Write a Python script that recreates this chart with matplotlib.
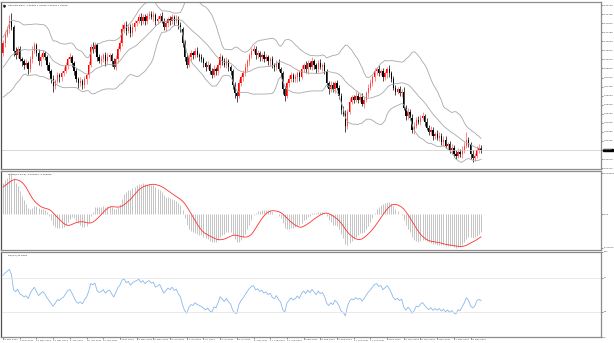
import numpy as np
import pandas as pd
import matplotlib
matplotlib.use("Agg")
import matplotlib.pyplot as plt
import matplotlib.transforms as mtransforms

# ---------------- data (prices in pips, 1 pip = 0.0001) ----------------
warmup_close = [13620, 13660, 13590, 13650, 13700, 13680, 13640, 13610, 13690, 13720,
                13680, 13700, 13650, 13670, 13720, 13740, 13700, 13690, 13720, 13760,
                13800, 13770, 13830, 13820, 13780, 13810, 13880, 13920, 13900, 13950,
                13990, 13960, 14010, 14000, 13970]

close_pips = [
    14039, 14097, 14141, 14199, 14155, 13981, 13952, 13996, 13923, 13908,
    13879, 13894, 13850, 13923, 13981, 14025, 13967, 13908, 13937, 13967,
    13937, 13879, 13836, 13777, 13727, 13763, 13807, 13792, 13821, 13836,
    13879, 13923, 13937, 13894, 13836, 13777, 13748, 13763, 13734, 13777,
    13807, 13879, 14010, 13996, 14025, 13937, 13908, 13923, 13952, 13908,
    13937, 13952, 13908, 13865, 13923, 13996, 14039, 14141, 14170, 14126,
    14155, 14112, 14155, 14185, 14199, 14228, 14199, 14228, 14199, 14235,
    14250, 14228, 14243, 14199, 14214, 14235, 14199, 14155, 14185, 14214,
    14199, 14228, 14199, 14214, 14170, 14141, 14039, 13937, 13879, 13937,
    13967, 13952, 13981, 13952, 13937, 13923, 13894, 13865, 13879, 13836,
    13807, 13850, 13836, 13879, 13937, 13908, 13879, 13908, 13865, 13836,
    13734, 13676, 13661, 13748, 13792, 13821, 13865, 13908, 13952, 13981,
    13996, 13952, 13967, 13937, 13952, 13923, 13937, 13908, 13923, 13879,
    13865, 13894, 13850, 13821, 13705, 13661, 13748, 13777, 13807, 13777,
    13792, 13821, 13792, 13850, 13879, 13850, 13894, 13865, 13908, 13879,
    13850, 13894, 13865, 13879, 13836, 13748, 13705, 13734, 13705, 13748,
    13719, 13661, 13559, 13530, 13443, 13545, 13617, 13647, 13632, 13661,
    13632, 13647, 13603, 13632, 13676, 13719, 13748, 13792, 13836, 13850,
    13821, 13836, 13792, 13821, 13850, 13821, 13777, 13719, 13690, 13705,
    13676, 13690, 13574, 13516, 13545, 13501, 13414, 13443, 13487, 13472,
    13501, 13516, 13472, 13428, 13399, 13414, 13370, 13385, 13356, 13370,
    13327, 13341, 13298, 13312, 13269, 13283, 13240, 13225, 13254, 13240,
    13269, 13298, 13341, 13312, 13240, 13210, 13225, 13269, 13283, 13269]

upper_wick = [
    25, 30, 20, 45, 60, 15, 30, 20, 25, 15,
    20, 30, 15, 25, 35, 20, 15, 30, 25, 20,
    15, 20, 25, 15, 30, 20, 25, 15, 20, 30,
    25, 20, 35, 15, 20, 25, 15, 30, 20, 25,
    20, 30, 25, 40, 20, 15, 25, 30, 20, 25,
    30, 20, 15, 25, 30, 20, 25, 35, 20, 30,
    20, 25, 30, 20, 15, 25, 30, 20, 25, 20,
    25, 20, 30, 15, 25, 20, 30, 25, 20, 15,
    20, 25, 15, 30, 20, 25, 15, 20, 30, 25,
    20, 15, 25, 30, 20, 25, 20, 15, 30, 20,
    25, 30, 20, 15, 35, 20, 25, 30, 20, 15,
    20, 25, 15, 30, 20, 25, 30, 20, 15, 25,
    30, 20, 25, 15, 20, 30, 25, 20, 15, 25,
    20, 25, 30, 20, 15, 25, 20, 30, 25, 20,
    25, 20, 15, 30, 20, 35, 25, 20, 30, 15,
    20, 25, 30, 20, 25, 15, 20, 30, 25, 20,
    25, 20, 15, 25, 30, 20, 25, 15, 20, 30,
    20, 25, 30, 15, 20, 25, 30, 20, 25, 20,
    30, 20, 25, 20, 15, 30, 20, 25, 20, 15,
    25, 20, 30, 15, 25, 20, 30, 25, 20, 25,
    20, 25, 15, 30, 20, 25, 20, 15, 25, 30,
    20, 25, 30, 15, 20, 25, 20, 30, 25, 20,
    25, 30, 60, 20, 15, 25, 20, 30, 25, 20]

lower_wick = [
    20, 25, 15, 30, 20, 35, 25, 20, 15, 30,
    25, 15, 30, 20, 25, 15, 20, 25, 30, 15,
    20, 30, 15, 25, 40, 20, 15, 30, 25, 20,
    15, 25, 20, 30, 25, 15, 35, 20, 25, 15,
    30, 20, 15, 25, 20, 30, 15, 25, 20, 30,
    20, 25, 30, 15, 20, 25, 15, 20, 30, 25,
    15, 30, 20, 25, 20, 15, 25, 20, 30, 20,
    20, 15, 25, 30, 20, 25, 15, 20, 25, 30,
    25, 20, 30, 15, 25, 20, 25, 30, 20, 15,
    30, 25, 20, 15, 25, 20, 30, 25, 15, 20,
    20, 15, 25, 30, 20, 25, 15, 20, 25, 30,
    25, 30, 45, 20, 15, 25, 20, 30, 25, 20,
    15, 25, 20, 30, 25, 20, 15, 25, 30, 20,
    25, 20, 15, 25, 30, 40, 20, 25, 20, 15,
    20, 30, 25, 15, 20, 25, 30, 15, 20, 25,
    25, 20, 15, 30, 20, 25, 30, 20, 15, 25,
    20, 25, 30, 20, 45, 25, 20, 15, 25, 20,
    25, 20, 15, 30, 20, 25, 20, 15, 25, 30,
    20, 15, 25, 20, 30, 25, 15, 20, 25, 20,
    15, 25, 20, 30, 25, 20, 25, 30, 20, 15,
    25, 20, 30, 15, 20, 25, 30, 20, 15, 25,
    20, 30, 15, 25, 20, 30, 25, 20, 15, 25,
    30, 20, 15, 25, 35, 30, 20, 15, 25, 20]

date_labels = ["18 Feb 2021", "2 Mar 2021", "12 Mar 2021", "24 Mar 2021", "5 Apr 2021",
               "15 Apr 2021", "27 Apr 2021", "7 May 2021", "19 May 2021", "31 May 2021",
               "10 Jun 2021", "22 Jun 2021", "2 Jul 2021", "14 Jul 2021", "26 Jul 2021",
               "5 Aug 2021", "17 Aug 2021", "27 Aug 2021", "8 Sep 2021", "20 Sep 2021",
               "30 Sep 2021", "12 Oct 2021", "22 Oct 2021", "3 Nov 2021", "15 Nov 2021",
               "25 Nov 2021", "7 Dec 2021", "17 Dec 2021", "29 Dec 2021"]
date_label_step = 8

price_ticks = [1.43150, 1.42495, 1.41840, 1.41185, 1.40530, 1.39875, 1.39220, 1.38565,
               1.37910, 1.37255, 1.36600, 1.35945, 1.35290, 1.34635, 1.33980, 1.33325,
               1.32670, 1.32015, 1.31370]
rsi_ticks = [0, 30, 70, 100]

# ---------------- indicators ----------------
allc = pd.Series(np.array(warmup_close + close_pips, dtype=float) / 10000.0)
nw = len(warmup_close)
n = len(close_pips)
mid = allc.rolling(20).mean()
sd = allc.rolling(20).std(ddof=0)
upper = (mid + 2 * sd).values[nw:]
lower = (mid - 2 * sd).values[nw:]
midv = mid.values[nw:]
ema12 = allc.ewm(span=12, adjust=False).mean()
ema26 = allc.ewm(span=26, adjust=False).mean()
macd = ema12 - ema26
signal = macd.rolling(9).mean()
macd_v = macd.values[nw:]
sig_v = signal.values[nw:]
d = allc.diff()
gain = d.clip(lower=0).ewm(alpha=1 / 14, adjust=False).mean()
loss = (-d.clip(upper=0)).ewm(alpha=1 / 14, adjust=False).mean()
rsi = (100 - 100 / (1 + gain / loss)).values[nw:]

closes = allc.values[nw:]
opens = allc.values[nw - 1:-1]
highs = np.maximum(opens, closes) + np.array(upper_wick) / 10000.0
lows = np.minimum(opens, closes) - np.array(lower_wick) / 10000.0
x = np.arange(n)

# ---------------- figure ----------------
W, H = 614, 343
fig = plt.figure(figsize=(W / 100, H / 100), dpi=100)
fig.patch.set_facecolor("white")


def ax_at(x0, y0, x1, y1):
    return fig.add_axes([x0 / W, 1 - y1 / H, (x1 - x0) / W, (y1 - y0) / H])


ax1 = ax_at(1, 2, 601, 169)
ax2 = ax_at(1, 171, 601, 250)
ax3 = ax_at(1, 252, 601, 337)
XMAX = 286.5
FS = 1.75
for ax in (ax1, ax2, ax3):
    ax.set_xlim(-1, XMAX)
    for s in ax.spines.values():
        s.set_color("#8c8c8c")
        s.set_linewidth(0.9)
    ax.spines["left"].set_color("#505050")
    ax.yaxis.tick_right()
    ax.tick_params(axis="y", length=1.2, width=0.4, pad=0.8, labelsize=FS,
                   colors="#404040")
    ax.tick_params(axis="x", length=0, labelbottom=False)

# main price panel
up = closes >= opens
col = np.where(up, "#ff0000", "#000000")
wcol = np.where(up, "#ff6060", "#000000")
ax1.vlines(x, lows, highs, colors=wcol, linewidth=0.5)
body = np.abs(closes - opens)
body = np.maximum(body, 0.00012)
ax1.bar(x, body, bottom=np.minimum(opens, closes), width=0.62, color=col,
        linewidth=0)
for band in (upper, midv, lower):
    ax1.plot(x, band, color="#a8a8a8", lw=0.6)
ax1.axhline(closes[-1], color="#c8c8c8", lw=0.5)
ax1.set_ylim(1.31300, 1.43370)
ax1.set_yticks(price_ticks)
ax1.set_yticklabels([f"{v:.5f}" for v in price_ticks])
tr = mtransforms.blended_transform_factory(ax1.transAxes, ax1.transData)
ax1.text(1.003, closes[-1], f"{closes[-1]:.5f}", transform=tr, fontsize=FS,
         color="white", va="center", ha="left",
         bbox=dict(boxstyle="square,pad=0.1", fc="black", ec="black"))
ax1.text(0.012, 0.985, f"GBPUSD,Daily  {opens[-1]:.5f} {highs[-1]:.5f} "
         f"{lows[-1]:.5f} {closes[-1]:.5f}", transform=ax1.transAxes,
         fontsize=FS, va="top", ha="left", color="#202020")
ax1.plot([0.005], [0.975], marker="v", ms=1.3, color="#202020",
         transform=ax1.transAxes)

# MACD panel
ax2.vlines(x, 0, macd_v, colors="#b4b4b4", linewidth=0.55)
ax2.plot(x, sig_v, color="#ff3030", lw=0.6)
mx = max(np.nanmax(macd_v), np.nanmax(sig_v))
mn = min(np.nanmin(macd_v), np.nanmin(sig_v))
pad = (mx - mn) * 0.03
ax2.set_ylim(mn - pad, mx + pad)
ax2.set_yticks([mx, 0, mn])
ax2.set_yticklabels([f"{mx:.6f}", "0.00", f"{mn:.5f}"])
ax2.text(0.012, 0.97, f"MACD(12,26,9) {macd_v[-1]:.6f} {sig_v[-1]:.6f}",
         transform=ax2.transAxes, fontsize=FS, va="top", ha="left",
         color="#202020")

# RSI panel
ax3.plot(x, rsi, color="#8ab8ee", lw=0.6)
for lv in (70, 30):
    ax3.axhline(lv, color="#e2e2e2", lw=0.5)
ax3.set_ylim(0, 100)
ax3.set_yticks(rsi_ticks)
ax3.set_yticklabels([str(v) for v in rsi_ticks])
ax3.text(0.012, 0.97, f"RSI(14) {rsi[-1]:.4f}", transform=ax3.transAxes,
         fontsize=FS, va="top", ha="left", color="#202020")
tick_pos = np.arange(len(date_labels)) * date_label_step
ax3.set_xticks(tick_pos)
ax3.set_xticklabels(date_labels, ha="left")
ax3.tick_params(axis="x", length=1.2, width=0.4, pad=0.6, labelsize=1.75,
                labelbottom=True, colors="#404040")

fig.savefig("out.png", dpi=100, facecolor="white")
